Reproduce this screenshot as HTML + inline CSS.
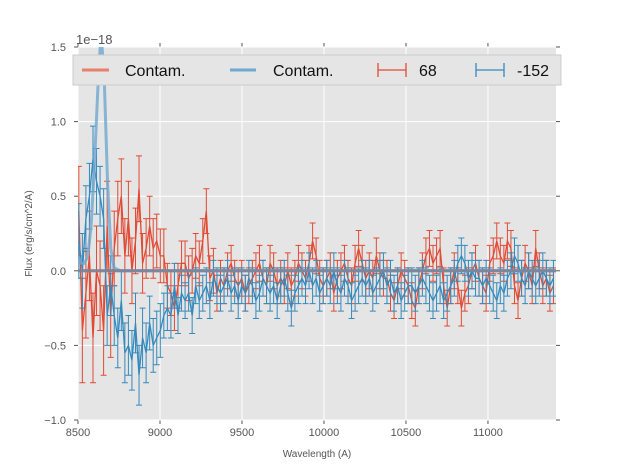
<!DOCTYPE html>
<html><head><meta charset="utf-8"><style>
body{margin:0;background:#fff;font-family:"Liberation Sans","DejaVu Sans",sans-serif}
svg text{font-family:"Liberation Sans","DejaVu Sans",sans-serif}
</style></head><body>
<svg id="chart" width="617" height="467" xmlns="http://www.w3.org/2000/svg"></svg>
<script>
const xTicks=[8500,9000,9500,10000,10500,11000];
const yTicks=[1.5,1.0,0.5,0.0,-0.5,-1.0];
const yTickLabels=["1.5","1.0","0.5","0.0","\u22120.5","\u22121.0"];
const wlStart=8505, wlStep=21.6;
const redFlux=[0.4,-0.4,-0.15,0.1,-0.45,0.0,-0.1,-0.4,0.3,-0.3,0.15,0.35,0.5,0.1,0.35,0.0,0.2,0.55,0.05,0.15,0.3,0.15,0.2,0.1,0.1,-0.1,-0.15,-0.25,-0.1,0.05,0.05,-0.05,0.0,0.1,0.05,0.2,0.4,-0.05,0.0,-0.15,-0.05,-0.1,0.0,0.05,-0.05,-0.1,-0.05,-0.15,-0.1,-0.05,0.0,0.05,-0.05,-0.1,0.05,0.0,-0.1,-0.05,-0.1,0.0,-0.1,-0.05,0.05,0.0,-0.05,0.05,0.2,0.1,-0.05,-0.1,-0.05,0.0,-0.15,-0.05,0.0,0.05,-0.05,-0.1,0.05,0.15,0.05,-0.05,0.0,-0.05,0.1,0.0,-0.05,-0.05,-0.15,-0.2,-0.1,0.0,-0.05,-0.1,-0.2,-0.25,-0.1,0.0,0.1,0.15,0.05,0.1,0.15,-0.1,-0.25,-0.1,0.0,-0.1,-0.25,-0.15,-0.1,0.0,0.05,-0.05,-0.1,-0.15,0.05,0.1,0.2,0.1,0.05,0.2,0.15,-0.1,-0.2,-0.05,0.05,0.0,-0.1,0.15,0.0,-0.1,-0.05,-0.15,-0.1];
const redErr=[0.3,0.35,0.3,0.3,0.3,0.3,0.3,0.3,0.3,0.28,0.25,0.25,0.25,0.25,0.25,0.22,0.22,0.22,0.2,0.2,0.2,0.2,0.18,0.18,0.18,0.15,0.15,0.15,0.15,0.15,0.15,0.15,0.15,0.15,0.15,0.15,0.15,0.15,0.15,0.12,0.12,0.12,0.12,0.12,0.12,0.12,0.12,0.12,0.12,0.12,0.12,0.12,0.12,0.12,0.12,0.12,0.12,0.12,0.12,0.12,0.12,0.12,0.12,0.12,0.12,0.12,0.12,0.12,0.12,0.12,0.12,0.12,0.12,0.12,0.12,0.12,0.12,0.12,0.12,0.12,0.12,0.12,0.12,0.12,0.12,0.12,0.12,0.12,0.12,0.12,0.12,0.12,0.12,0.12,0.12,0.12,0.12,0.12,0.12,0.12,0.12,0.12,0.12,0.12,0.12,0.12,0.12,0.12,0.12,0.12,0.12,0.12,0.12,0.12,0.12,0.12,0.12,0.12,0.12,0.12,0.12,0.12,0.12,0.12,0.12,0.12,0.12,0.12,0.12,0.12,0.12,0.12,0.12,0.12,0.12];
const blueFlux=[0.2,0.0,0.35,0.5,0.75,0.6,0.5,0.35,-0.3,-0.1,-0.3,-0.45,-0.2,-0.55,-0.5,-0.6,-0.35,-0.7,-0.45,-0.55,-0.35,-0.5,-0.45,-0.4,-0.3,-0.25,-0.3,-0.1,-0.3,-0.15,-0.2,-0.15,-0.3,-0.1,-0.2,-0.15,-0.1,-0.2,-0.05,-0.1,-0.15,-0.1,-0.05,-0.15,-0.1,-0.2,-0.1,-0.15,-0.05,-0.1,-0.2,-0.15,-0.05,-0.1,-0.15,-0.1,-0.2,-0.1,-0.05,-0.15,-0.25,-0.15,-0.1,-0.05,-0.1,0.0,-0.1,-0.05,-0.15,-0.1,-0.05,-0.1,0.0,-0.1,-0.15,-0.05,-0.1,-0.2,-0.15,-0.1,-0.05,-0.1,-0.05,-0.15,-0.1,-0.05,0.0,-0.1,-0.05,-0.15,-0.1,-0.2,-0.15,-0.1,-0.1,-0.15,-0.1,-0.05,-0.1,-0.15,-0.2,-0.15,-0.1,-0.2,-0.15,-0.1,-0.05,0.05,0.1,0.05,-0.05,0.0,-0.05,-0.05,-0.1,-0.05,-0.1,-0.15,-0.2,-0.1,-0.15,-0.05,0.0,0.1,0.05,-0.05,-0.1,0.0,-0.05,-0.1,-0.05,0.0,-0.05,-0.1,-0.05];
const blueErr=[0.25,0.25,0.22,0.22,0.22,0.22,0.2,0.2,0.2,0.2,0.2,0.2,0.2,0.2,0.2,0.2,0.2,0.2,0.2,0.2,0.18,0.18,0.18,0.18,0.15,0.15,0.15,0.15,0.12,0.12,0.12,0.12,0.12,0.12,0.12,0.12,0.12,0.12,0.12,0.12,0.12,0.12,0.12,0.12,0.12,0.12,0.12,0.12,0.12,0.12,0.12,0.12,0.12,0.12,0.12,0.12,0.12,0.12,0.12,0.12,0.12,0.12,0.12,0.12,0.12,0.12,0.12,0.12,0.12,0.12,0.12,0.12,0.12,0.12,0.12,0.12,0.12,0.12,0.12,0.12,0.12,0.12,0.12,0.12,0.12,0.12,0.12,0.12,0.12,0.12,0.12,0.12,0.12,0.12,0.12,0.12,0.12,0.12,0.12,0.12,0.12,0.12,0.12,0.12,0.12,0.12,0.12,0.12,0.12,0.12,0.12,0.12,0.12,0.12,0.12,0.12,0.12,0.12,0.12,0.12,0.12,0.12,0.12,0.12,0.12,0.12,0.12,0.12,0.12,0.12,0.12,0.12,0.12,0.12,0.12];
const contamWl=[8500,8520,8540,8560,8580,8600,8620,8640,8660,8680,8700,8720,8760,11420];
const blueContam=[0.1,0.05,0.05,0.1,0.3,0.7,1.2,1.6,1.3,0.6,0.15,0.02,0.0,0.0];
const redContam=[0.0,0.0,0.0,0.0,0.0,0.0,0.0,0.0,0.0,0.0,0.0,0.0,0.0,0.0];

const L=78,R=556,T=47,B=420;
const xMin=8500,xMax=11415,yMin=-1.0,yMax=1.5;
const sx=v=>L+(v-xMin)/(xMax-xMin)*(R-L);
const sy=v=>B-(v-yMin)/(yMax-yMin)*(B-T);
const svg=document.getElementById('chart');
const NS='http://www.w3.org/2000/svg';
function mk(tag,attrs,parent){const e=document.createElementNS(NS,tag);for(const k in attrs)e.setAttribute(k,attrs[k]);(parent||svg).appendChild(e);return e;}

let bg=mk('rect',{x:L,y:T,width:R-L,height:B-T,fill:'#e5e5e5'});


const grid=mk('g',{});


xTicks.forEach(v=>{mk('line',{x1:sx(v),x2:sx(v),y1:T,y2:B,stroke:'#fff','stroke-width':1},grid);
 mk('line',{x1:sx(v),x2:sx(v),y1:B,y2:B+4,stroke:'#555'},grid);mk('line',{x1:sx(v),x2:sx(v),y1:T,y2:T-4,stroke:'#555'},grid);});
yTicks.forEach(v=>{mk('line',{x1:L,x2:R,y1:sy(v),y2:sy(v),stroke:'#fff','stroke-width':1},grid);
 mk('line',{x1:L-4,x2:L,y1:sy(v),y2:sy(v),stroke:'#555'},grid);mk('line',{x1:R,x2:R+4,y1:sy(v),y2:sy(v),stroke:'#555'},grid);});

const clip=mk('clipPath',{id:'pc'});mk('rect',{x:L,y:T,width:R-L,height:B-T},clip);
const plot=mk('g',{'clip-path':'url(#pc)'});



function contam(vals,color,name){
 const p=contamWl.map((w,i)=>(i?'L':'M')+sx(w).toFixed(1)+','+sy(vals[i]).toFixed(1)).join('');
 const e=mk('path',{d:p,fill:'none',stroke:color,'stroke-width':3,'stroke-opacity':0.8},plot);
 
 
}
function series(vals,errs,color,name){
 const g=mk('g',{},plot);
 
 
 let d='';
 vals.forEach((v,i)=>{const x=sx(wlStart+i*wlStep);const y1=sy(v-errs[i]),y2=sy(v+errs[i]);
  d+=`M${x},${y1}L${x},${y2}M${x-3},${y1}L${x+3},${y1}M${x-3},${y2}L${x+3},${y2}`;});
 mk('path',{d:d,stroke:color,'stroke-width':1,fill:'none'},g);
 const p=vals.map((v,i)=>(i?'L':'M')+sx(wlStart+i*wlStep).toFixed(1)+','+sy(v).toFixed(1)).join('');
 mk('path',{d:p,stroke:color,'stroke-width':1.3,fill:'none'},g);
}
contam(redContam,'#e8806a','red-contam-line');
series(redFlux,redErr,'#e24a33','red-series-68');
series(blueFlux,blueErr,'#348abd','blue-series-152');
contam(blueContam,'#6fa8d0','blue-contam-line');
const zl=mk('line',{x1:L,x2:R,y1:sy(0),y2:sy(0),stroke:'#7a8499','stroke-width':3,'stroke-opacity':0.9},plot);



xTicks.forEach(v=>{const t=mk('text',{x:sx(v),y:B+16,'font-size':11,'text-anchor':'middle',fill:'#555'});t.textContent=v;
 
 });
yTicks.forEach((v,i)=>{const t=mk('text',{x:L-12,y:sy(v)+4,'font-size':11,'text-anchor':'end',fill:'#555'});t.textContent=yTickLabels[i];
 
 });
let t=mk('text',{x:76,y:44,'font-size':13,fill:'#555'});t.textContent='1e\u221218';


t=mk('text',{x:(L+R)/2,y:457,'font-size':10,'text-anchor':'middle',fill:'#555'});t.textContent='Wavelength (A)';


t=mk('text',{x:32,y:(T+B)/2,'font-size':10,'text-anchor':'middle',fill:'#555',transform:`rotate(-90 32 ${(T+B)/2})`});t.textContent='Flux (erg/s/cm^2/A)';



const lg=mk('g',{});


mk('rect',{x:73,y:55,width:488,height:30,fill:'#e5e5e5',stroke:'#ccc'},lg);
mk('line',{x1:82,x2:109,y1:70,y2:70,stroke:'#e8806a','stroke-width':3},lg);
mk('line',{x1:230,x2:256,y1:70,y2:70,stroke:'#6fa8d0','stroke-width':3},lg);
mk('path',{d:'M378,70L406,70M378,63L378,77M406,63L406,77',stroke:'#e24a33','stroke-width':1.3,fill:'none'},lg);
mk('path',{d:'M476,70L504,70M476,63L476,77M504,63L504,77',stroke:'#348abd','stroke-width':1.3,fill:'none'},lg);
[[125,'Contam.','legend-red-contam'],[273,'Contam.','legend-blue-contam'],[419,'68','legend-68'],[517,'-152','legend-152']].forEach(a=>{
 const e=mk('text',{x:a[0],y:76,'font-size':16,fill:'#111'},lg);e.textContent=a[1];
 
 });
</script>
</body></html>
